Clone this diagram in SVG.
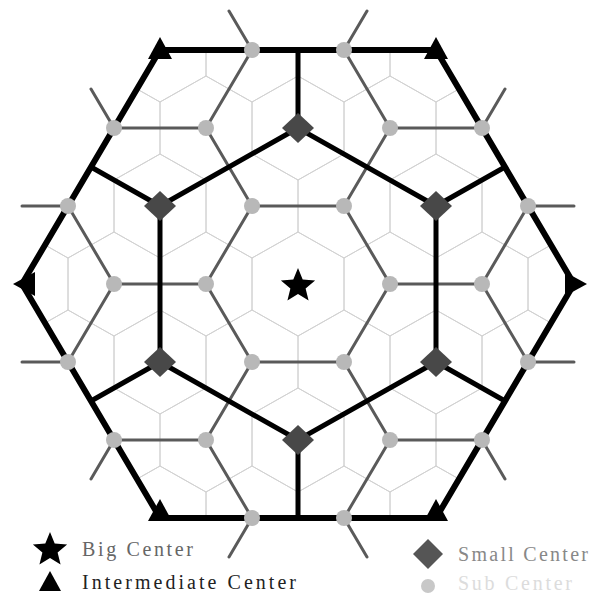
<svg xmlns="http://www.w3.org/2000/svg" xmlns:xlink="http://www.w3.org/1999/xlink" width="593" height="596" viewBox="0 0 593 596">
<style>
.cell{fill:none;stroke:#d2d2d2;stroke-width:1}
.road{stroke:#5a5a5a;stroke-width:3;stroke-linecap:round;fill:none}
.thick{stroke:#000;stroke-width:5;fill:none;stroke-linecap:butt}
.border{stroke:#000;stroke-width:6;fill:none;stroke-linejoin:miter}
.sub{fill:#b8b8b8}
.small{fill:#484848}
.inter{fill:#000}
.big{fill:#000}
.lbl{font-family:"Liberation Serif","Times New Roman",serif;font-size:20px}
</style>
<defs>
<polygon id="cell" points="0,-52 46,-26 46,26 0,52 -46,26 -46,-26"/>
<clipPath id="bigclip"><polygon points="160,50 436,50 574,284 436,518 160,518 22,284"/></clipPath>
<polygon id="dia" points="0,-15 16,0 0,15 -16,0"/>
<path id="starp" d="M0,-18 L4.7,-6.47 L17.12,-5.56 L7.61,2.47 L10.58,14.56 L0,8 L-10.58,14.56 L-7.61,2.47 L-17.12,-5.56 L-4.7,-6.47 Z"/>
</defs>
<rect width="593" height="596" fill="#fff"/>

<g id="cells" class="cell" clip-path="url(#bigclip)">
<use href="#cell" x="160" y="50"/><use href="#cell" x="252" y="50"/><use href="#cell" x="344" y="50"/><use href="#cell" x="436" y="50"/>
<use href="#cell" x="114" y="128"/><use href="#cell" x="206" y="128"/><use href="#cell" x="298" y="128"/><use href="#cell" x="390" y="128"/><use href="#cell" x="482" y="128"/>
<use href="#cell" x="68" y="206"/><use href="#cell" x="160" y="206"/><use href="#cell" x="252" y="206"/><use href="#cell" x="344" y="206"/><use href="#cell" x="436" y="206"/><use href="#cell" x="528" y="206"/>
<use href="#cell" x="22" y="284"/><use href="#cell" x="114" y="284"/><use href="#cell" x="206" y="284"/><use href="#cell" x="298" y="284"/><use href="#cell" x="390" y="284"/><use href="#cell" x="482" y="284"/><use href="#cell" x="574" y="284"/>
<use href="#cell" x="68" y="362"/><use href="#cell" x="160" y="362"/><use href="#cell" x="252" y="362"/><use href="#cell" x="344" y="362"/><use href="#cell" x="436" y="362"/><use href="#cell" x="528" y="362"/>
<use href="#cell" x="114" y="440"/><use href="#cell" x="206" y="440"/><use href="#cell" x="298" y="440"/><use href="#cell" x="390" y="440"/><use href="#cell" x="482" y="440"/>
<use href="#cell" x="160" y="518"/><use href="#cell" x="252" y="518"/><use href="#cell" x="344" y="518"/><use href="#cell" x="436" y="518"/>
</g>

<g id="connectors">
<g id="sub-roads" class="road">
<path d="M252,50 L344,50 M252,50 L206,128 M344,50 L390,128"/>
<path d="M114,128 L206,128 M390,128 L482,128"/>
<path d="M114,128 L68,206 M206,128 L252,206 M390,128 L344,206 M482,128 L528,206"/>
<path d="M252,206 L344,206"/>
<path d="M68,206 L114,284 M252,206 L206,284 M344,206 L390,284 M528,206 L482,284"/>
<path d="M114,284 L206,284 M390,284 L482,284"/>
<path d="M114,284 L68,362 M206,284 L252,362 M390,284 L344,362 M482,284 L528,362"/>
<path d="M252,362 L344,362"/>
<path d="M68,362 L114,440 M252,362 L206,440 M344,362 L390,440 M528,362 L482,440"/>
<path d="M114,440 L206,440 M390,440 L482,440"/>
<path d="M206,440 L252,518 M390,440 L344,518 M252,518 L344,518"/>
<path d="M252,50 L229,11 M344,50 L367,11 M114,128 L91,89 M482,128 L505,89 M68,206 L22,206 M528,206 L574,206 M68,362 L22,362 M528,362 L574,362 M114,440 L91,479 M482,440 L505,479 M252,518 L229,557 M344,518 L367,557"/>
</g>
<g id="small-roads" class="thick">
<path d="M298,128 L160,206 L160,362 L298,440 L436,362 L436,206 Z"/>
<path d="M298,128 L298,50 M160,206 L91,167 M436,206 L505,167 M160,362 L91,401 M436,362 L505,401 M298,440 L298,518"/>
</g>
<g id="boundary">
<polygon class="border" points="160,50 436,50 574,284 436,518 160,518 22,284"/>
</g>
</g>

<g id="sub-centers" class="sub">
<g id="s1"><circle cx="252" cy="50" r="8"/></g>
<g id="s2"><circle cx="344" cy="50" r="8"/></g>
<g id="s3"><circle cx="114" cy="128" r="8"/></g>
<g id="s4"><circle cx="206" cy="128" r="8"/></g>
<g id="s5"><circle cx="390" cy="128" r="8"/></g>
<g id="s6"><circle cx="482" cy="128" r="8"/></g>
<g id="s7"><circle cx="68" cy="206" r="8"/></g>
<g id="s8"><circle cx="252" cy="206" r="8"/></g>
<g id="s9"><circle cx="344" cy="206" r="8"/></g>
<g id="s10"><circle cx="528" cy="206" r="8"/></g>
<g id="s11"><circle cx="114" cy="284" r="8"/></g>
<g id="s12"><circle cx="206" cy="284" r="8"/></g>
<g id="s13"><circle cx="390" cy="284" r="8"/></g>
<g id="s14"><circle cx="482" cy="284" r="8"/></g>
<g id="s15"><circle cx="68" cy="362" r="8"/></g>
<g id="s16"><circle cx="252" cy="362" r="8"/></g>
<g id="s17"><circle cx="344" cy="362" r="8"/></g>
<g id="s18"><circle cx="528" cy="362" r="8"/></g>
<g id="s19"><circle cx="114" cy="440" r="8"/></g>
<g id="s20"><circle cx="206" cy="440" r="8"/></g>
<g id="s21"><circle cx="390" cy="440" r="8"/></g>
<g id="s22"><circle cx="482" cy="440" r="8"/></g>
<g id="s23"><circle cx="252" cy="518" r="8"/></g>
<g id="s24"><circle cx="344" cy="518" r="8"/></g>
</g>

<g id="small-centers" class="small">
<g id="d1"><use href="#dia" x="298" y="128"/></g>
<g id="d2"><use href="#dia" x="160" y="206"/></g>
<g id="d3"><use href="#dia" x="436" y="206"/></g>
<g id="d4"><use href="#dia" x="160" y="362"/></g>
<g id="d5"><use href="#dia" x="436" y="362"/></g>
<g id="d6"><use href="#dia" x="298" y="440"/></g>
</g>

<g id="intermediate-centers" class="inter">
<g id="t1"><polygon points="160,37 172,59 148,59"/></g>
<g id="t2"><polygon points="436,37 448,59 424,59"/></g>
<g id="t3"><polygon points="13,284 35,272 35,296"/></g>
<g id="t4"><polygon points="587,284 565,272 565,296"/></g>
<g id="t5"><polygon points="160,499 172,521 148,521"/></g>
<g id="t6"><polygon points="436,499 448,521 424,521"/></g>
</g>

<g id="big-center" class="big"><use href="#starp" x="298" y="286"/></g>

<g id="legend">
<g id="leg-big"><use href="#starp" x="50" y="550" fill="#000"/><text class="lbl" x="82" y="556" fill="#666" textLength="111" lengthAdjust="spacing">Big Center</text></g>
<g id="leg-inter"><polygon points="50,571 61,591 39,591" fill="#000"/><text class="lbl" x="82" y="589" fill="#222" textLength="214" lengthAdjust="spacing">Intermediate Center</text></g>
<g id="leg-small"><polygon points="428,539 443,554 428,569 413,554" fill="#555"/><text class="lbl" x="458" y="561" fill="#888" textLength="130" lengthAdjust="spacing">Small Center</text></g>
<g id="leg-sub"><circle cx="428" cy="586" r="7" fill="#c8c8c8"/><text class="lbl" x="458" y="590" fill="#dcdcdc" textLength="114" lengthAdjust="spacing">Sub Center</text></g>
</g>
</svg>
